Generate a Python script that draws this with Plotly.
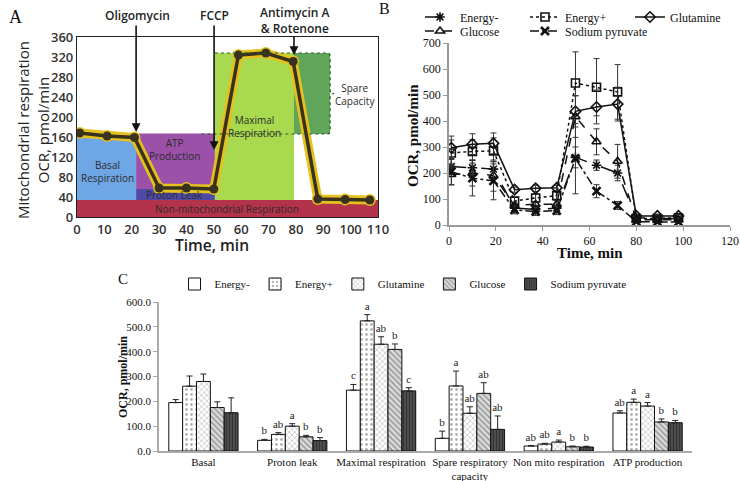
import plotly.graph_objects as go

# ================= Panel A : schematic Seahorse profile =================
a_time = [1, 11, 21, 30, 40, 50, 59, 69, 79, 88, 98, 107]
a_ocr = [168, 162, 159, 58, 58, 56, 324, 328, 311, 36, 35, 34]
a_xticks = [0, 10, 20, 30, 40, 50, 60, 70, 80, 90, 100, 110]
a_yticks = [0, 40, 80, 120, 160, 200, 240, 280, 320, 360]

a_region_names = ["Non-mitochondrial Respiration", "Basal Respiration", "ATP Production",
                  "Proton Leak", "Maximal Respiration", "Spare Capacity"]
a_region_x0 = [0, 0, 21.6, 21.6, 50.4, 79.3]
a_region_x1 = [110, 21.6, 50.4, 50.4, 79.3, 92.5]
a_region_y0 = [0, 34, 56, 34, 34, 166]
a_region_y1 = [34, 165, 167, 56, 328, 328]

# ================= Panel B : OCR time course =================
b_time = [1, 10, 19, 28, 37, 46, 54, 63, 72, 80, 89, 98]
b_names = ["Energy-", "Energy+", "Glutamine", "Glucose", "Sodium pyruvate"]
b_energy_minus = [225, 220, 215, 65, 60, 65, 260, 230, 200, 28, 25, 25]
b_energy_minus_err = [30, 30, 30, 15, 15, 15, 40, 20, 30, 5, 5, 5]
b_energy_plus = [277, 283, 285, 92, 104, 113, 546, 530, 512, 25, 25, 28]
b_energy_plus_err = [50, 45, 50, 15, 15, 20, 120, 110, 105, 5, 5, 5]
b_glutamine = [297, 311, 314, 136, 141, 143, 437, 454, 465, 35, 35, 35]
b_glutamine_err = [45, 40, 40, 10, 12, 10, 60, 65, 65, 5, 5, 5]
b_glucose = [194, 200, 190, 75, 80, 80, 417, 320, 245, 20, 20, 20]
b_glucose_err = [40, 50, 60, 10, 10, 15, 80, 50, 65, 5, 5, 5]
b_sodium = [205, 180, 170, 58, 52, 55, 255, 130, 75, 13, 12, 12]
b_sodium_err = [50, 68, 73, 15, 15, 15, 135, 25, 15, 5, 5, 5]

# ================= Panel C : respiration parameters =================
c_categories = ["Basal", "Proton leak", "Maximal respiration", "Spare respiratory<br>capacity",
                "Non mito respiration", "ATP production"]
c_names = ["Energy-", "Energy+", "Glutamine", "Glucose", "Sodium pyruvate"]
c_energy_minus = [195, 43, 245, 51, 20, 153]
c_energy_plus = [261, 67, 524, 262, 28, 196]
c_glutamine = [280, 100, 430, 152, 36, 181]
c_glucose = [175, 57, 409, 232, 17, 117]
c_sodium = [154, 42, 242, 87, 16, 114]
c_energy_minus_err = [12, 4, 23, 29, 2, 9]
c_energy_plus_err = [41, 7, 25, 60, 3, 13]
c_glutamine_err = [30, 10, 30, 26, 8, 14]
c_glucose_err = [23, 6, 22, 43, 3, 12]
c_sodium_err = [60, 12, 13, 54, 3, 9]
c_energy_minus_sig = ["", "b", "c", "b", "ab", "ab"]
c_energy_plus_sig = ["", "ab", "a", "a", "ab", "a"]
c_glutamine_sig = ["", "a", "ab", "ab", "a", "a"]
c_glucose_sig = ["", "b", "b", "ab", "b", "b"]
c_sodium_sig = ["", "b", "c", "ab", "b", "b"]

# ---------------- layout helpers ----------------
W, H = 740, 481


def px(x):
    return x / W


def py(y):
    return 1 - y / H


SANS = "Open Sans"
SERIF = "Liberation Serif"
region_colors = ["#b3334a", "#6fa6e6", "#9b51a8", "#4e4aa6", "#a9d94f", "#5fa65b"]

fig = go.Figure()

# ---- Panel A traces ----
fig.add_trace(go.Scatter(x=a_time, y=a_ocr, mode="lines+markers", xaxis="x", yaxis="y",
                         line=dict(color="#e5c11f", width=9),
                         marker=dict(size=12, color="#e5c11f"),
                         showlegend=False, hoverinfo="skip"))
fig.add_trace(go.Scatter(x=a_time, y=a_ocr, mode="lines+markers", xaxis="x", yaxis="y",
                         line=dict(color="#38321f", width=3.5),
                         marker=dict(size=9, color="#38321f"),
                         showlegend=False))

shapes = []
for i in range(len(a_region_names)):
    shapes.append(dict(type="rect", xref="x", yref="y", layer="below",
                       x0=a_region_x0[i], x1=a_region_x1[i],
                       y0=a_region_y0[i], y1=a_region_y1[i],
                       fillcolor=region_colors[i], line=dict(width=0)))
# dotted outline + brace of the spare capacity
sx0, sx1 = a_region_x0[4], a_region_x1[5]
sy0, sy1 = a_region_y0[5], a_region_y1[5]
mid = (sy0 + sy1) / 2
shapes.append(dict(type="path", xref="x", yref="y", layer="above",
                   path=(f"M {sx0},{sy1} L {sx1 - 1},{sy1} Q {sx1},{sy1} {sx1},{sy1 - 8} "
                         f"L {sx1},{mid + 8} Q {sx1},{mid} {sx1 + 1.5},{mid} "
                         f"Q {sx1},{mid} {sx1},{mid - 8} L {sx1},{sy0 + 8} "
                         f"Q {sx1},{sy0} {sx1 - 1},{sy0} L {sx0 - 5},{sy0}"),
                   line=dict(color="#2f5a2a", width=1.2, dash="dot")))

ann = []


def paper_text(x, y, text, font, angle=0):
    ann.append(dict(x=px(x), y=py(y), xref="paper", yref="paper", text=text,
                    showarrow=False, font=font, textangle=angle,
                    xanchor="center", yanchor="middle"))


lab_font = dict(family=SANS, size=10, color="#2b2b2b")
region_label_pos = [(54.8, 16), (11, 90), (35.8, 134), (35.8, 43), (65, 180), (101.5, 244)]
region_label_text = ["Non-mitochondrial Respiration", "Basal<br>Respiration", "ATP<br>Production",
                     "Proton Leak", "Maximal<br>Respiration", "Spare<br>Capacity"]
for (lx, ly), t in zip(region_label_pos, region_label_text):
    ann.append(dict(x=lx, y=ly, xref="x", yref="y", text=t, showarrow=False, font=lab_font,
                    xanchor="center", yanchor="middle"))

# injection arrows
inj = [(21.6, 170, 386), (50.1, 134, 386), (79.3, 324, 364)]
for xx, ytip, ytail in inj:
    ann.append(dict(x=xx, y=ytip, ax=xx, ay=ytail, xref="x", yref="y", axref="x", ayref="y",
                    text="", showarrow=True, arrowhead=2, arrowsize=1.1, arrowwidth=1.6,
                    arrowcolor="#111"))
inj_font = dict(family=SANS, size=12, color="#222", weight=600)
paper_text(137, 15, "Oligomycin", inj_font)
paper_text(214, 15, "FCCP", inj_font)
paper_text(295, 20, "Antimycin A<br>& Rotenone", inj_font)
# axis titles of A
paper_text(33, 130, "Mitochondrial respiration<br>OCR, pmol/min",
           dict(family=SANS, size=15, color="#222"), angle=-90)
paper_text(212, 245, "Time, min", dict(family=SANS, size=15.5, color="#222", weight=600))
paper_text(15, 17, "A", dict(family=SERIF, size=18, color="#111"))

# ---- Panel B traces ----
b_vals = [b_energy_minus, b_energy_plus, b_glutamine, b_glucose, b_sodium]
b_errs = [b_energy_minus_err, b_energy_plus_err, b_glutamine_err, b_glucose_err, b_sodium_err]
b_symbols = ["asterisk-open", "square-open", "diamond-open", "triangle-up-open", "x-thin-open"]
b_dash = ["longdash", "dot", "solid", "dash", "dashdot"]
b_legend = ["legend", "legend", "legend", "legend2", "legend2"]
b_legendwidth = [60, 60, 70, 60, 110]
for i, name in enumerate(b_names):
    fig.add_trace(go.Scatter(
        x=b_time, y=b_vals[i], name=name, mode="lines+markers", xaxis="x2", yaxis="y2",
        legend=b_legend[i], legendwidth=b_legendwidth[i],
        line=dict(color="#111", width=1.5, dash=b_dash[i]),
        marker=dict(symbol=b_symbols[i], size=8, color="#111",
                    line=dict(color="#111", width=1.6 if i != 4 else 2.6)),
        error_y=dict(type="data", array=b_errs[i], color="#333", thickness=1, width=3),
    ))
paper_text(413, 136, "<b>OCR, pmol/min</b>", dict(family=SERIF, size=15, color="#111"), -90)
paper_text(590, 253, "<b>Time, min</b>", dict(family=SERIF, size=15, color="#111"))
paper_text(384, 9, "B", dict(family=SERIF, size=16, color="#111"))

# ---- Panel C traces ----
c_vals = [c_energy_minus, c_energy_plus, c_glutamine, c_glucose, c_sodium]
c_errs = [c_energy_minus_err, c_energy_plus_err, c_glutamine_err, c_glucose_err, c_sodium_err]
c_sigs = [c_energy_minus_sig, c_energy_plus_sig, c_glutamine_sig, c_glucose_sig, c_sodium_sig]
c_patterns = [
    dict(shape="", bgcolor="white"),
    dict(shape=".", fgcolor="#666", bgcolor="white", size=5, solidity=0.25),
    dict(shape="x", fgcolor="#777", bgcolor="white", size=4, solidity=0.3),
    dict(shape="\\", fgcolor="#555", bgcolor="#ddd", size=4, solidity=0.4),
    dict(shape="|", fgcolor="#111", bgcolor="#555", size=3, solidity=0.5),
]
c_fill = ["white", "white", "white", "#ddd", "#555"]
for i, name in enumerate(c_names):
    fig.add_trace(go.Bar(
        x=c_categories, y=c_vals[i], name=name, xaxis="x3", yaxis="y3", legend="legend3",
        marker=dict(color=c_fill[i], line=dict(color="#111", width=1), pattern=c_patterns[i]),
        error_y=dict(type="data", array=c_errs[i], arrayminus=[0] * len(c_errs[i]),
                     symmetric=False, color="#222", thickness=1, width=3),
    ))
# significance letters on an overlaid axis (same grouping)
for i, name in enumerate(c_names):
    tops = [v + e for v, e in zip(c_vals[i], c_errs[i])]
    fig.add_trace(go.Bar(
        x=c_categories, y=tops, xaxis="x4", yaxis="y4", showlegend=False,
        marker=dict(color="rgba(0,0,0,0)", line=dict(width=0)),
        text=c_sigs[i], textposition="outside", cliponaxis=False, constraintext="none",
        textfont=dict(family=SERIF, size=11, color="#222"), hoverinfo="skip",
    ))
paper_text(123, 377, "<b>OCR, pmol/min</b>", dict(family=SERIF, size=12, color="#111"), -90)
paper_text(123, 279, "C", dict(family=SERIF, size=15, color="#111"))

axA_font = dict(family=SANS, size=13, color="#333", weight=600)
fig.update_layout(
    width=W, height=H, margin=dict(l=0, r=0, t=0, b=0, autoexpand=False),
    paper_bgcolor="white", plot_bgcolor="white",
    barmode="group", bargap=0.22, bargroupgap=0,
    shapes=shapes, annotations=ann,
    xaxis=dict(domain=[px(77), px(378)], range=[0, 110], tickvals=a_xticks, showgrid=False,
               zeroline=False, showline=True, mirror=True, linecolor="#222", linewidth=1.2,
               ticks="", tickfont=axA_font, anchor="y", automargin=False),
    yaxis=dict(domain=[py(217), py(37)], range=[0, 360], tickvals=a_yticks,
               showgrid=False, zeroline=False, showline=True, mirror=True, linecolor="#222",
               linewidth=1.2, ticks="", tickfont=axA_font, anchor="x", automargin=False),
    xaxis2=dict(domain=[px(449), px(730)], range=[0, 120], dtick=20, showgrid=False,
                zeroline=False, showline=True, linecolor="#999", linewidth=1.5,
                ticks="outside", ticklen=4, tickcolor="#999", automargin=False,
                tickfont=dict(family=SERIF, size=12, color="#111"), anchor="y2"),
    yaxis2=dict(domain=[py(225), py(43)], range=[0, 700], dtick=100, showgrid=False,
                zeroline=False, showline=True, linecolor="#999", linewidth=1.5,
                ticks="outside", ticklen=4, tickcolor="#999", automargin=False,
                tickfont=dict(family=SERIF, size=12, color="#111"), anchor="x2"),
    xaxis3=dict(domain=[px(159), px(692)], range=[-0.5, 5.5], showgrid=False, zeroline=False,
                showline=True, linecolor="#aaa", linewidth=1.5, ticks="", tickangle=0,
                automargin=False,
                tickfont=dict(family=SERIF, size=11, color="#111"), anchor="y3"),
    yaxis3=dict(domain=[py(451), py(302)], range=[0, 600], dtick=100,
                tickformat=".1f", showgrid=False, zeroline=False, showline=True,
                linecolor="#aaa", linewidth=1.5, ticks="outside", ticklen=4, tickcolor="#aaa",
                automargin=False,
                tickfont=dict(family=SERIF, size=11, color="#111"), anchor="x3"),
    xaxis4=dict(overlaying="x3", range=[-0.5, 5.5], visible=False, anchor="y4",
                automargin=False),
    yaxis4=dict(overlaying="y3", range=[0, 600], visible=False, anchor="x4",
                automargin=False),
    legend=dict(orientation="h", x=px(420), y=py(17), xanchor="left", yanchor="middle",
                font=dict(family=SERIF, size=12, color="#111"),
                bgcolor="rgba(0,0,0,0)", itemclick=False),
    legend2=dict(orientation="h", x=px(420), y=py(31), xanchor="left", yanchor="middle",
                 font=dict(family=SERIF, size=12, color="#111"),
                 bgcolor="rgba(0,0,0,0)"),
    legend3=dict(orientation="h", x=px(403), y=py(284), xanchor="center", yanchor="middle",
                 font=dict(family=SERIF, size=11, color="#111"), bgcolor="rgba(0,0,0,0)"),
)

# the page body would otherwise keep the browser's default 8 px margin
fig.write_html("out.html", config={"displayModeBar": False},
               post_script="document.body.style.margin='0px';"
                           "document.body.style.overflow='hidden';")
